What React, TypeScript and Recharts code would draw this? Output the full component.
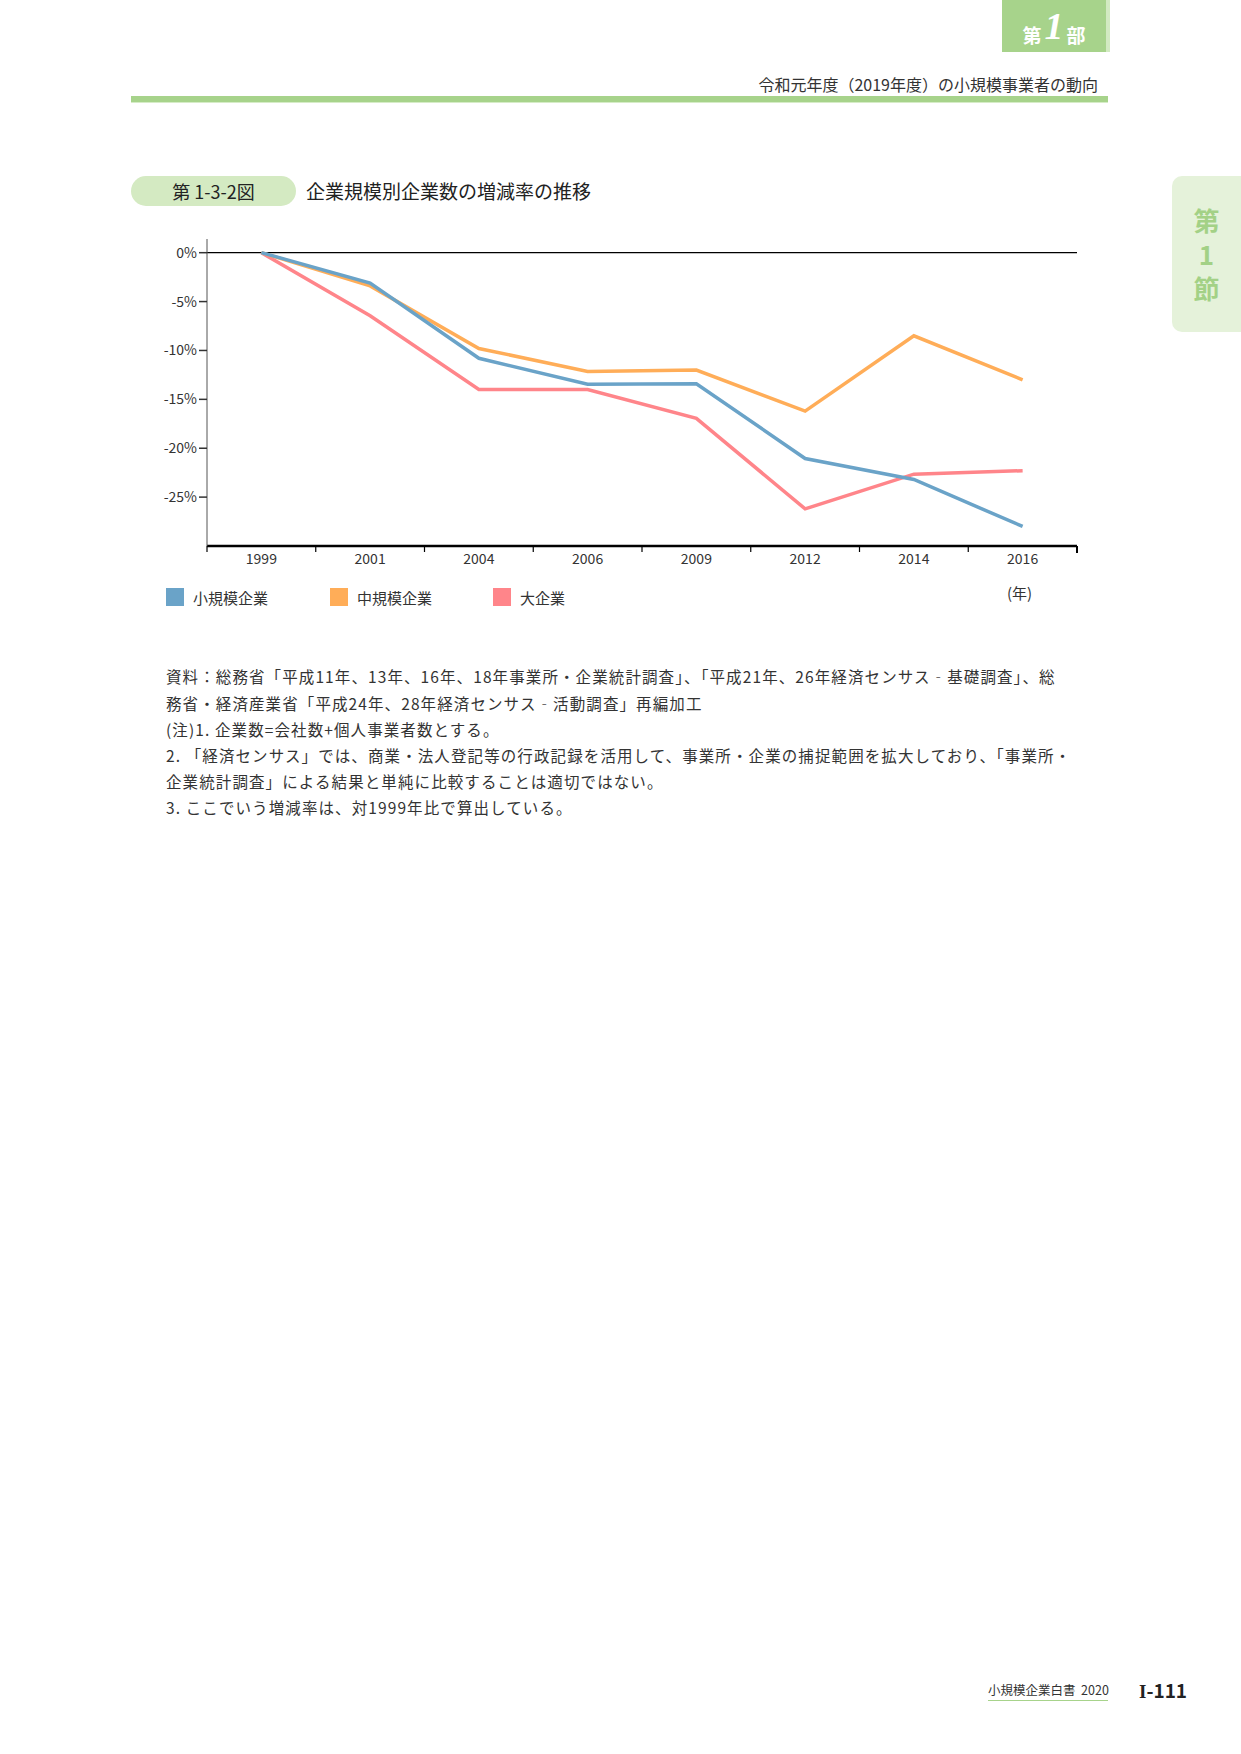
import { LineChart, Line, XAxis, YAxis, ReferenceLine } from "recharts";

// 年次
const years = ["1999", "2001", "2004", "2006", "2009", "2012", "2014", "2016"];

// 対1999年比の増減率（%）
const smallFirms = [0, -3.1, -10.8, -13.45, -13.4, -21.05, -23.2, -28.0];
const mediumFirms = [0, -3.4, -9.8, -12.15, -12.0, -16.2, -8.5, -13.0];
const largeFirms = [0, -6.45, -14.0, -14.0, -16.95, -26.2, -22.65, -22.3];

const yTicks = [0, -5, -10, -15, -20, -25];

const seriesNames = ["小規模企業", "中規模企業", "大企業"];
const seriesColors = ["#6aa3c8", "#ffad58", "#ff858a"];

const notes = [
  "資料：総務省「平成11年、13年、16年、18年事業所・企業統計調査」、「平成21年、26年経済センサス‐基礎調査」、総",
  "務省・経済産業省「平成24年、28年経済センサス‐活動調査」再編加工",
  "(注)1. 企業数=会社数+個人事業者数とする。",
  "2. 「経済センサス」では、商業・法人登記等の行政記録を活用して、事業所・企業の捕捉範囲を拡大しており、「事業所・",
  "企業統計調査」による結果と単純に比較することは適切ではない。",
  "3. ここでいう増減率は、対1999年比で算出している。",
];

const data = years.map((year, i) => ({
  year,
  small: smallFirms[i],
  medium: mediumFirms[i],
  large: largeFirms[i],
}));

const FONT = '"Noto Sans CJK JP", "Noto Sans", sans-serif';
const CHART_W = 980;
const CHART_H = 380;
const MARGIN = { top: 19, right: 33, bottom: 24, left: 0 };
const Y_AXIS_W = 77;
const PLOT_W = CHART_W - MARGIN.right - MARGIN.left - Y_AXIS_W;
const BAND = PLOT_W / years.length;
const TICK_SIZE = 6;
const TICK_MARGIN = 2;

const XTick = (props: any) => {
  const { x, y, payload, index } = props;
  const axisY = y - TICK_SIZE - TICK_MARGIN;
  const last = index === years.length - 1;
  return (
    <g>
      <line x1={x - BAND / 2} y1={axisY} x2={x - BAND / 2} y2={axisY + 6} stroke="#000" strokeWidth={1.2} />
      {last && (
        <line x1={x + BAND / 2} y1={axisY} x2={x + BAND / 2} y2={axisY + 7} stroke="#000" strokeWidth={2} />
      )}
      <text x={x} y={y} dy="0.71em" textAnchor="middle" fill="#333" fontSize={14} fontFamily={FONT}>
        {payload.value}
      </text>
    </g>
  );
};

const abs = (left: number, top: number, extra: any = {}) => ({
  position: "absolute" as const,
  left,
  top,
  ...extra,
});

export default function App() {
  return (
    <div
      style={{
        position: "absolute",
        left: 0,
        top: 0,
        width: 1241,
        height: 1754,
        background: "#fff",
        fontFamily: FONT,
        color: "#222",
        overflow: "hidden",
      }}
    >
      {/* 第1部 タブ */}
      <div style={abs(1002, 0, { width: 104, height: 52, background: "#a7d38b" })}>
        <div
          style={{
            display: "flex",
            alignItems: "flex-end",
            justifyContent: "center",
            height: 46,
            color: "#fff",
            fontWeight: 700,
          }}
        >
          <span style={{ fontSize: 19, lineHeight: "22px" }}>第</span>
          <span
            style={{
              fontSize: 38,
              lineHeight: "40px",
              fontStyle: "italic",
              fontFamily: '"Liberation Serif", "DejaVu Serif", serif',
              margin: "0 3px",
            }}
          >
            1
          </span>
          <span style={{ fontSize: 19, lineHeight: "22px" }}>部</span>
        </div>
      </div>
      <div style={abs(1106, 0, { width: 4, height: 52, background: "#d2eac1" })} />

      {/* ヘッダー */}
      <div style={abs(0, 74, { width: 1098, textAlign: "right", fontSize: 16, lineHeight: "20px", color: "#333" })}>
        令和元年度（2019年度）の小規模事業者の動向
      </div>
      <div style={abs(131, 96, { width: 977, height: 6, background: "#a7d38b" })} />
      <div style={abs(131, 102, { width: 977, height: 1, background: "#d6ecc7" })} />

      {/* 右タブ */}
      <div
        style={abs(1172, 176, {
          width: 69,
          height: 156,
          background: "#e5f2da",
          borderRadius: "10px 0 0 10px",
        })}
      />
      {["第", "1", "節"].map((c, i) => (
        <div
          key={c}
          style={abs(1172, 206 + i * 34, {
            width: 69,
            textAlign: "center",
            fontSize: 26,
            lineHeight: "28px",
            fontWeight: 700,
            color: "#a3d186",
          })}
        >
          {c}
        </div>
      ))}

      {/* タイトル */}
      <div
        style={abs(131, 176, {
          width: 165,
          height: 30,
          background: "#d4eac2",
          borderRadius: 15,
          textAlign: "center",
          fontSize: 18,
          lineHeight: "30px",
        })}
      >
        第 1-3-2図
      </div>
      <div style={abs(306, 178, { fontSize: 19, lineHeight: "26px" })}>企業規模別企業数の増減率の推移</div>

      {/* グラフ */}
      <div style={abs(130, 220)}>
        <LineChart width={CHART_W} height={CHART_H} data={data} margin={MARGIN} style={{ fontFamily: FONT }}>
          <XAxis
            dataKey="year"
            axisLine={{ stroke: "#000", strokeWidth: 2.5 }}
            tickLine={false}
            tickSize={TICK_SIZE}
            tickMargin={TICK_MARGIN}
            height={30}
            interval={0}
            padding={{ left: BAND / 2, right: BAND / 2 }}
            tick={<XTick />}
          />
          <YAxis
            type="number"
            width={Y_AXIS_W}
            domain={[-30, 1.4]}
            ticks={yTicks}
            interval={0}
            axisLine={{ stroke: "#555", strokeWidth: 1 }}
            tickLine={{ stroke: "#333", strokeWidth: 1.5 }}
            tickSize={8}
            tickMargin={2}
            tick={{ fill: "#333", fontSize: 14, fontFamily: FONT }}
            tickFormatter={(v: number) => `${v}%`}
          />
          <ReferenceLine y={0} stroke="#000" strokeWidth={1.2} />
          <Line
            dataKey="large"
            name={seriesNames[2]}
            stroke={seriesColors[2]}
            strokeWidth={3.5}
            dot={false}
            isAnimationActive={false}
          />
          <Line
            dataKey="medium"
            name={seriesNames[1]}
            stroke={seriesColors[1]}
            strokeWidth={3.5}
            dot={false}
            isAnimationActive={false}
          />
          <Line
            dataKey="small"
            name={seriesNames[0]}
            stroke={seriesColors[0]}
            strokeWidth={3.5}
            dot={false}
            isAnimationActive={false}
          />
        </LineChart>
      </div>

      {/* 凡例 */}
      {seriesNames.map((name, i) => {
        const left = [166, 330, 493][i];
        return (
          <div key={name} style={abs(left, 588, { display: "flex", alignItems: "center", height: 18 })}>
            <div style={{ width: 18, height: 18, background: seriesColors[i] }} />
            <span style={{ marginLeft: 9, fontSize: 15, color: "#333" }}>{name}</span>
          </div>
        );
      })}
      <div style={abs(1007, 583, { fontSize: 15, lineHeight: "20px", color: "#333" })}>(年)</div>

      {/* 注記 */}
      {notes.map((t, i) => (
        <div
          key={i}
          style={abs(166, [663, 690, 716, 742, 768, 794][i], {
            fontSize: 15.5,
            letterSpacing: 1.1,
            lineHeight: "26px",
            whiteSpace: "nowrap",
            color: "#333",
          })}
        >
          {t}
        </div>
      ))}

      {/* フッター */}
      <div
        style={abs(988, 1680, {
          fontSize: 12.5,
          lineHeight: "20px",
          color: "#333",
          borderBottom: "1.5px solid #a7d38b",
          width: 120,
          whiteSpace: "nowrap",
        })}
      >
        小規模企業白書&nbsp;&nbsp;2020
      </div>
      <div style={abs(1139, 1678, { fontSize: 19, lineHeight: "24px", fontWeight: 700, color: "#222", whiteSpace: "nowrap" })}>
        <span style={{ fontFamily: '"Liberation Serif", serif' }}>I</span>-111
      </div>
    </div>
  );
}
